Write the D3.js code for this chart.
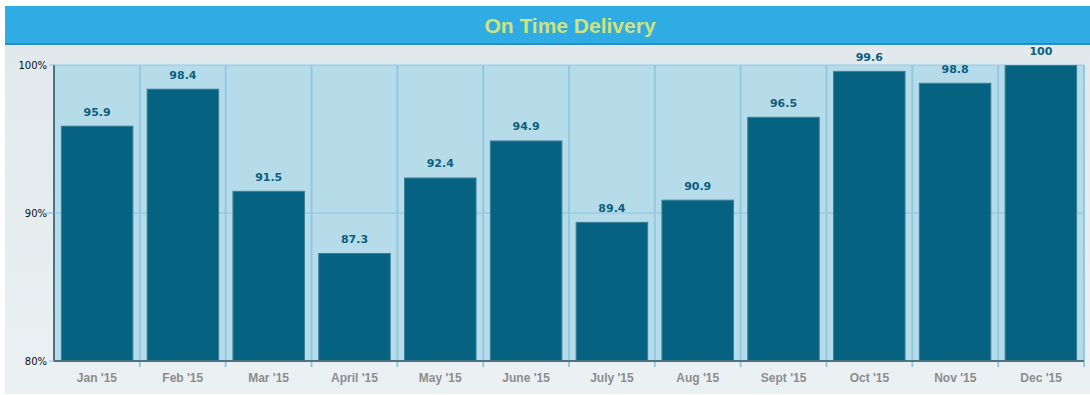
<!DOCTYPE html>
<html>
<head>
<meta charset="utf-8">
<script src="https://cdn.jsdelivr.net/npm/d3@7"></script>
<style>
  html, body { margin: 0; padding: 0; background: #fff; }
  svg { display: block; }
</style>
</head>
<body>
<svg id="chart"></svg>
<script>
// Chart data
const months = ["Jan '15", "Feb '15", "Mar '15", "April '15", "May '15", "June '15",
                "July '15", "Aug '15", "Sept '15", "Oct '15", "Nov '15", "Dec '15"];
const onTime = [95.9, 98.4, 91.5, 87.3, 92.4, 94.9, 89.4, 90.9, 96.5, 99.6, 98.8, 100];
const yTicks = [80, 90, 100];
const title = "On Time Delivery";

const width = 1090, height = 395;
const svg = d3.select("#chart").attr("width", width).attr("height", height);

// Background gradient for the panel
const defs = svg.append("defs");
const grad = defs.append("linearGradient")
  .attr("id", "panelGrad").attr("x1", 0).attr("y1", 0).attr("x2", 0).attr("y2", 1);
grad.append("stop").attr("offset", "0%").attr("stop-color", "#e1e9ec");
grad.append("stop").attr("offset", "100%").attr("stop-color", "#ebf1f3");

svg.append("rect")
  .attr("x", 5).attr("y", 44).attr("width", width - 5).attr("height", 350)
  .attr("fill", "url(#panelGrad)");

// Title bar
svg.append("rect")
  .attr("x", 5).attr("y", 6).attr("width", width - 5).attr("height", 38)
  .attr("fill", "#30ace4");
svg.append("rect")
  .attr("x", 5).attr("y", 43).attr("width", width - 5).attr("height", 2)
  .attr("fill", "#2a8cc4");
svg.append("text")
  .attr("x", 570).attr("y", 33)
  .attr("text-anchor", "middle")
  .attr("font-family", "Liberation Sans, Arial, sans-serif")
  .attr("font-weight", "bold")
  .attr("font-size", 21)
  .attr("fill", "#d2e27a")
  .text(title);

// Scales
const margin = { left: 54, right: 1084, top: 65, bottom: 361 };
const x = d3.scaleBand().domain(months).range([margin.left, margin.right])
  .paddingInner(0.155).paddingOuter(0.08);
const xb = d3.scaleBand().domain(months).range([margin.left, margin.right]);
const y = d3.scaleLinear().domain([80, 100]).range([margin.bottom, margin.top]);

// Plot background
svg.append("rect")
  .attr("x", margin.left).attr("y", margin.top)
  .attr("width", margin.right - margin.left).attr("height", margin.bottom - margin.top)
  .attr("fill", "#b6dcea")
  .attr("stroke", "#93c9e1").attr("stroke-width", 1);

// Vertical grid lines at category boundaries
const bounds = months.map(m => xb(m)).concat([margin.right]);
svg.append("g").selectAll("line")
  .data(bounds.slice(1))
  .join("line")
  .attr("x1", d => d).attr("x2", d => d)
  .attr("y1", margin.top).attr("y2", margin.bottom + 6)
  .attr("stroke", "#93c9e1").attr("stroke-width", 2);

// Horizontal grid lines
svg.append("g").selectAll("line")
  .data(yTicks.filter(t => t > 80 && t < 100))
  .join("line")
  .attr("x1", margin.left - 8).attr("x2", margin.right)
  .attr("y1", d => y(d)).attr("y2", d => y(d))
  .attr("stroke", "#8cc4dc").attr("stroke-width", 1);

// Bars
svg.append("g").selectAll("rect")
  .data(onTime)
  .join("rect")
  .attr("x", (d, i) => x(months[i]) + 0.5)
  .attr("y", d => y(d) + 0.5)
  .attr("width", x.bandwidth() - 1)
  .attr("height", d => y(80) - y(d) - 0.5)
  .attr("fill", "#066281")
  .attr("stroke", "#3a7f99").attr("stroke-width", 1);

// Value labels
svg.append("g").selectAll("text")
  .data(onTime)
  .join("text")
  .attr("x", (d, i) => x(months[i]) + x.bandwidth() / 2)
  .attr("y", d => y(d) - 10)
  .attr("text-anchor", "middle")
  .attr("font-family", "DejaVu Sans, Verdana, sans-serif")
  .attr("font-weight", "bold")
  .attr("font-size", 11)
  .attr("fill", "#0d5f80")
  .text(d => d);

// Left axis line
svg.append("line")
  .attr("x1", margin.left).attr("x2", margin.left)
  .attr("y1", margin.top).attr("y2", margin.bottom + 1)
  .attr("stroke", "#4d7282").attr("stroke-width", 2);

// Bottom axis line
svg.append("line")
  .attr("x1", margin.left).attr("x2", margin.right)
  .attr("y1", margin.bottom).attr("y2", margin.bottom)
  .attr("stroke", "#4d7282").attr("stroke-width", 2);

// Y tick marks and labels
const yAxis = svg.append("g");
yAxis.selectAll("line")
  .data(yTicks)
  .join("line")
  .attr("x1", margin.left - 5).attr("x2", margin.left)
  .attr("y1", d => y(d)).attr("y2", d => y(d))
  .attr("stroke", "#8cc4dc").attr("stroke-width", 1);
yAxis.selectAll("text")
  .data(yTicks)
  .join("text")
  .attr("x", margin.left - 7).attr("y", d => y(d) + 4)
  .attr("text-anchor", "end")
  .attr("font-family", "DejaVu Sans, Verdana, sans-serif")
  .attr("font-size", 10)
  .attr("fill", "#111")
  .text(d => d + "%");

// X labels
svg.append("g").selectAll("text")
  .data(months)
  .join("text")
  .attr("x", d => xb(d) + xb.bandwidth() / 2)
  .attr("y", 382)
  .attr("text-anchor", "middle")
  .attr("font-family", "Liberation Sans, Arial, sans-serif")
  .attr("font-weight", "bold")
  .attr("font-size", 12)
  .attr("fill", "#8c8c8c")
  .text(d => d);
</script>
</body>
</html>
